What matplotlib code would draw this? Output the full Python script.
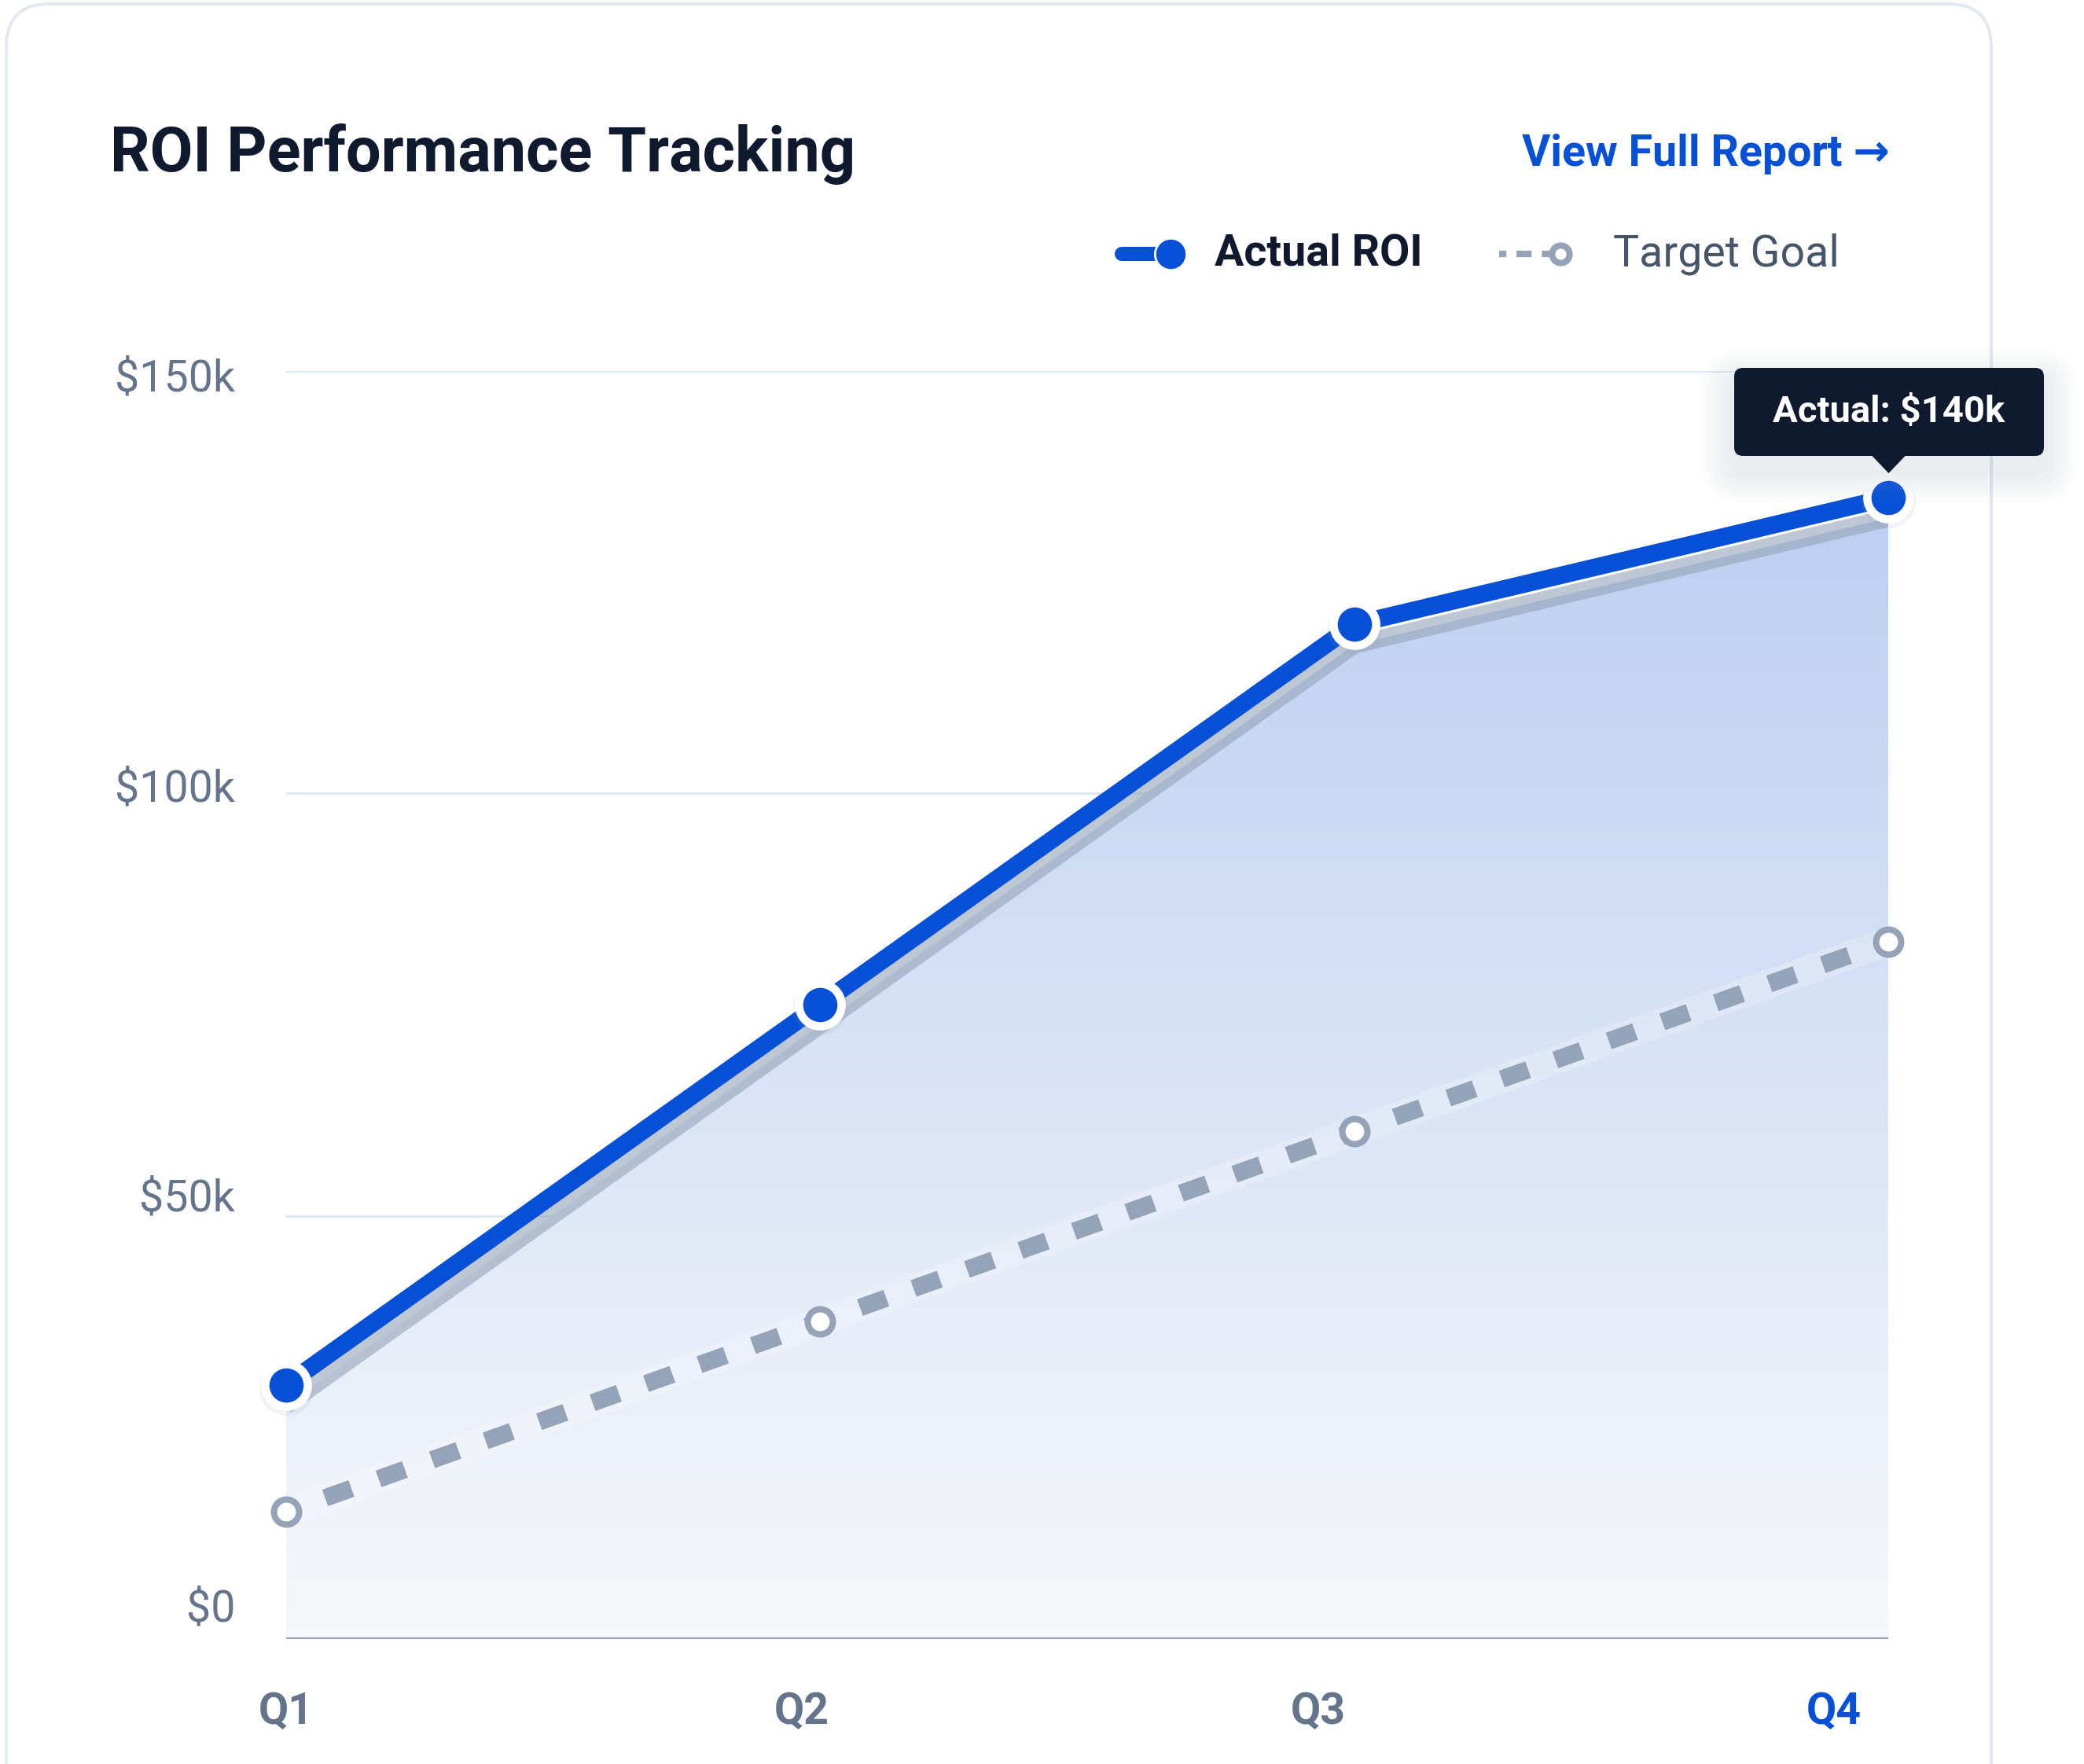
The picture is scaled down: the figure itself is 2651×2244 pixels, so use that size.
import numpy as np
import matplotlib
matplotlib.use('Agg')
import matplotlib.pyplot as plt
import matplotlib.transforms as mtransforms
from matplotlib.patches import FancyBboxPatch, Polygon
from matplotlib.lines import Line2D
from matplotlib.colors import LinearSegmentedColormap

# data ($k)
quarters = ['Q1', 'Q2', 'Q3', 'Q4']
actual_roi = [30, 75, 120, 135]
target_goal = [15, 37.5, 60, 82.5]
y_ticks = [0, 50, 100, 150]
y_tick_labels = ['$0', '$50k', '$100k', '$150k']
tooltip_text = 'Actual: $140k'

BLUE = '#0550d6'
NAVY = '#0f1a2e'
SLATE = '#64748b'
GREY = '#94a3b8'
GRID = '#e2e8f0'

W, H = 2651, 2244
DPI = 200

plt.rcParams['font.family'] = ['Roboto', 'DejaVu Sans']

fig = plt.figure(figsize=(W / DPI, H / DPI), dpi=DPI)
fig.patch.set_facecolor('white')
px = mtransforms.IdentityTransform()


def top(py):
    # pixel row measured from the top -> display y
    return H - py


def shift(dy_px):
    return mtransforms.ScaledTranslation(0, dy_px / DPI, fig.dpi_scale_trans)


# card
card = FancyBboxPatch((8, top(2600)), 2525, 2595, boxstyle='round,pad=0,rounding_size=55',
                      transform=px, facecolor='white', edgecolor=GRID, lw=1.4, zorder=-5)
fig.add_artist(card)

# axes
ax = fig.add_axes([363.5 / W, 1 - 2084.6 / H, 2039 / W, 1612.9 / H])
ax.set_xlim(0, len(quarters) - 1)
ax.set_ylim(0, 150)
ax.patch.set_alpha(0)
for s in ax.spines.values():
    s.set_visible(False)
ax.set_xticks([])
ax.set_yticks([])

x = np.arange(len(quarters))

for t in y_ticks[1:]:
    ax.axhline(t, color=GRID, lw=1.1, zorder=0)

# gradient area under the actual line (top follows the shadow)
cmap = LinearSegmentedColormap.from_list('roi_fill', ['#f7f8fb', '#bccff1'])
grad = np.linspace(0, 1, 256).reshape(-1, 1)
im = ax.imshow(grad, extent=[0, x[-1], 0, max(actual_roi)], origin='lower', cmap=cmap,
               aspect='auto', zorder=1)
poly = Polygon(np.column_stack([np.r_[x, x[::-1]], np.r_[actual_roi, [0] * len(x)]]),
               closed=True, transform=ax.transData + shift(-26), facecolor='none', edgecolor='none')
ax.add_patch(poly)
im.set_clip_path(poly)

ax.axhline(0, color=GREY, lw=1.5, zorder=2)

# target goal
ax.plot(x, target_goal, color='white', alpha=0.22, lw=13, solid_capstyle='butt', zorder=2)
ax.plot(x, target_goal, color=GREY, lw=8, linestyle=(0.86, (1.6, 1.65)),
        dash_capstyle='butt', zorder=3)
ax.plot(x, target_goal, 'o', ms=11.5, mfc='white', mec=GREY, mew=2.9, zorder=4, clip_on=False)

# actual ROI
ax.plot(x, actual_roi, color=GREY, alpha=0.6, lw=8, solid_capstyle='butt',
        transform=ax.transData + shift(-26), zorder=3)
ax.plot(x, actual_roi, color=BLUE, lw=8, solid_capstyle='round', zorder=5)
ax.plot(x, actual_roi, 'o', ms=25, mfc=GREY, mec='none', alpha=0.12,
        transform=ax.transData + shift(-4), zorder=5, clip_on=False)
ax.plot(x, actual_roi, 'o', ms=19.5, mfc=BLUE, mec='white', mew=3.8, zorder=6, clip_on=False)

# tick labels
label_y = np.linspace(3.5, 149, len(y_ticks))
for yy, lab in zip(label_y, y_tick_labels):
    ax.text(-0.0316, yy, lab, transform=ax.get_yaxis_transform(), ha='right', va='center',
            fontsize=20, color=SLATE)
label_x = np.linspace(0, 0.966, len(quarters))
for i, (xx, lab) in enumerate(zip(label_x, quarters)):
    ax.text(xx, -93 / 1612.9, lab, transform=ax.transAxes, ha='center', va='center',
            fontsize=20, fontweight='bold', color=BLUE if i == len(quarters) - 1 else SLATE)

# header
fig.text(140 / W, 1 - 196 / H, 'ROI Performance Tracking', ha='left', va='center',
         fontsize=28.6, fontweight='bold', color=NAVY)
fig.text(2404 / W, 1 - 196 / H, 'View Full Report \u2192', ha='right', va='center',
         fontsize=20, fontweight='bold', color=BLUE)

# legend
ly = top(323)
fig.add_artist(Line2D([1427, 1470], [ly, ly], transform=px, color=BLUE, lw=6.5,
                      solid_capstyle='round'))
fig.add_artist(Line2D([1489], [ly], transform=px, marker='o', ms=14.5, mfc=BLUE,
                      mec='white', mew=1))
fig.text(1545 / W, ly / H, 'Actual ROI', ha='left', va='center', fontsize=20,
         fontweight='bold', color=NAVY)
fig.add_artist(Line2D([1907, 1975], [ly, ly], transform=px, color=GREY, lw=3,
                      linestyle=(1.2, (2.3, 1.56)), dash_capstyle='butt'))
fig.add_artist(Line2D([1985], [ly], transform=px, marker='o', ms=8, mfc='white',
                      mec=GREY, mew=2.9))
fig.text(2052 / W, ly / H, 'Target Goal', ha='left', va='center', fontsize=20,
         color='#475569')

# tooltip anchored on the last actual point
fig.canvas.draw()
qx, qy = ax.transData.transform((x[-1], actual_roi[-1]))
tip_y = qy + 31
bw, bh = 394, 112
bx, by = qx - bw / 2 + 0.5, tip_y + 22
for k in range(6):
    g = 6 + k * 7
    fig.add_artist(FancyBboxPatch((bx - g, by - g - 18), bw + 2 * g, bh + 2 * g,
                                  boxstyle='round,pad=0,rounding_size=%d' % (10 + g),
                                  transform=px, facecolor='#94a3b8', edgecolor='none',
                                  alpha=0.03, zorder=8))
fig.add_artist(FancyBboxPatch((bx, by), bw, bh, boxstyle='round,pad=0,rounding_size=11',
                              transform=px, facecolor=NAVY, edgecolor='none', zorder=9))
fig.add_artist(Polygon([[qx - 22, by + 1], [qx + 22, by + 1], [qx, tip_y]], closed=True,
                       transform=px, facecolor=NAVY, edgecolor='none', zorder=9))
fig.text((bx + bw / 2) / W, (by + bh / 2) / H, tooltip_text, ha='center', va='center',
         fontsize=17, fontweight='bold', color='white', zorder=10)

fig.savefig('out.png', dpi=DPI, facecolor='white')
